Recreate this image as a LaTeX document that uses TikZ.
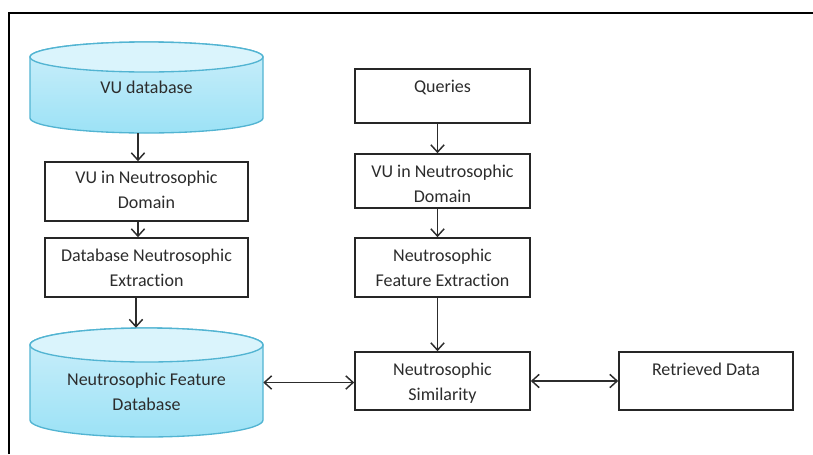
\documentclass[tikz,border=0pt]{standalone}
\usepackage{fontspec}
\setmainfont{Carlito}[Ligatures=NoCommon]
\usetikzlibrary{arrows.meta}
\definecolor{ink}{HTML}{2C2C2C}
\definecolor{boxline}{HTML}{262626}
\definecolor{cylline}{HTML}{52B4D2}
\definecolor{cyltop}{HTML}{CDEFFA}
\definecolor{cylbot}{HTML}{9CE2F6}
\definecolor{cylcap}{HTML}{DAF4FC}
% fixed-size label box: width, height, first-baseline offset, text
\newcommand\boxlabel[4]{\begin{minipage}[c][#2][t]{#1}\centering\rule{0pt}{#3}#4\end{minipage}}
% cylinder: left x, right x, top cap centre y, bottom cap centre y, cap radius (px)
\newcommand\dbcylinder[5]{%
  \pgfmathsetmacro\cx{(#1+#2)/2}\pgfmathsetmacro\rx{(#2-#1)/2}%
  \path[top color=cyltop, bottom color=cylbot, draw=cylline, line width=1pt]
    (#1,#3) -- (#1,#4) arc[start angle=180, end angle=0, x radius=\rx, y radius=#5]
    -- (#2,#3) arc[start angle=0, end angle=-180, x radius=\rx, y radius=#5] -- cycle;
  \path[fill=cylcap, draw=cylline, line width=1pt] (\cx,#3) ellipse[x radius=\rx, y radius=#5];
}
\begin{document}
\begin{tikzpicture}[x=0.75pt,y=-0.75pt,
  frame/.style={line width=2.2pt, draw=black},
  box/.style={draw=boxline, line width=1.2pt, inner sep=0pt, fill=white, text=ink,
    font=\fontsize{13.5pt}{18.75pt}\selectfont},
  dbtext/.style={inner sep=0pt, text=ink, font=\fontsize{13.5pt}{18.75pt}\selectfont},
  tip/.tip={Straight Barb[length=5.5pt,width=10pt,line width=1.1pt]},
  flow/.style={draw=ink, line width=1.1pt, -tip},
  both/.style={draw=ink, line width=1.1pt, tip-tip},
]
\useasboundingbox (0,0) rectangle (813,454);
\draw[frame] (9,454) -- (9,13) -- (813,13);

% left column
\dbcylinder{30}{263}{57}{118}{15}
\node[dbtext] (db1) at (146.5,87.5) {\boxlabel{174.75pt}{68.25pt}{38.25pt}{VU database}};
\node[box] (b1) at (146.5,191.5) {\boxlabel{152.25pt}{44.25pt}{15.75pt}{VU in Neutrosophic\\Domain}};
\node[box] (b2) at (146.5,267.5) {\boxlabel{152.25pt}{44.25pt}{17.5pt}{Database Neutrosophic\\Extraction}};
\dbcylinder{30}{263}{345}{420}{17}
\node[dbtext] (db2) at (146.5,382.5) {\boxlabel{174.75pt}{81.75pt}{42.75pt}{Neutrosophic Feature\\Database}};

% right column
\node[box] (q) at (442.5,96) {\boxlabel{131.25pt}{40.5pt}{17.75pt}{Queries}};
\node[box] (v2) at (442.5,181) {\boxlabel{131.25pt}{40.5pt}{17.25pt}{VU in Neutrosophic\\Domain}};
\node[box] (f) at (442.5,267.5) {\boxlabel{131.25pt}{44.25pt}{17.25pt}{Neutrosophic\\Feature Extraction}};
\node[box] (sim) at (442.5,381) {\boxlabel{131.25pt}{43.5pt}{17.25pt}{Neutrosophic\\Similarity}};
\node[box] (ret) at (706,381) {\boxlabel{130.5pt}{43.5pt}{17.25pt}{Retrieved Data}};

% connectors
\draw[flow] ([xshift=-6.4pt]db1.south) -- ([xshift=-6.4pt]b1.north);
\draw[flow] ([xshift=-6.4pt]b1.south) -- ([xshift=-6.4pt]b2.north);
\draw[flow] ([xshift=-7.9pt]b2.south) -- ([xshift=-7.9pt]db2.north);
\draw[flow] ([xshift=-3.75pt]q.south) -- ([xshift=-3.75pt]v2.north);
\draw[flow] ([xshift=-3.75pt]v2.south) -- ([xshift=-3.75pt]f.north);
\draw[flow] ([xshift=-3.75pt]f.south) -- ([xshift=-3.75pt]sim.north);
\draw[both] (db2.east) -- (db2.east -| sim.west);
\draw[both] (sim.east) -- (ret.west);
\end{tikzpicture}
\end{document}
